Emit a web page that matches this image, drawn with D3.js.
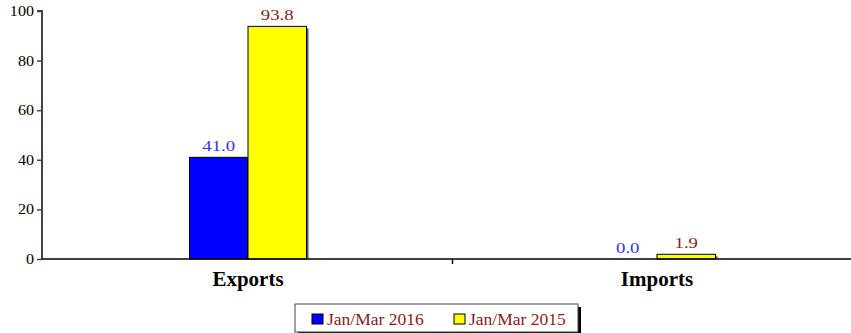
<!DOCTYPE html>
<html>
<head>
<meta charset="utf-8">
<script src="https://cdn.jsdelivr.net/npm/d3@7"></script>
<style>
  html, body { margin: 0; padding: 0; background: #fff; }
  svg { display: block; }
  text { font-family: "Liberation Serif", "Times New Roman", serif; }
</style>
</head>
<body>
<svg id="chart" width="851" height="333"></svg>
<script>
const categories = ["Exports", "Imports"];
const seriesNames = ["Jan/Mar 2016", "Jan/Mar 2015"];
const values2016 = [41.0, 0.0];
const values2015 = [93.8, 1.9];
const yTicks = [0, 20, 40, 60, 80, 100];

const fills = ["#0000ff", "#ffff00"];
const labelColors = ["#3333ff", "#8b1a1a"];

const svg = d3.select("#chart");
const plotLeft = 42, plotTop = 11, plotBottom = 259;
const bandStart = 43.5, bandWidth = 409;

// text placed at (x, y) and widened horizontally by sx
function stretchedText(parent, x, y, sx, str) {
  return parent.append("text")
    .attr("transform", `translate(${x},${y}) scale(${sx},1)`)
    .text(str);
}

const x = d3.scaleBand().domain(categories).range([bandStart, bandStart + bandWidth * categories.length]).paddingInner(0).paddingOuter(0);
const y = d3.scaleLinear().domain([0, 100]).range([plotBottom, plotTop]);
const sub = d3.scaleBand().domain(seriesNames).range([0, 117]);

const data = categories.map((c, i) => ({ cat: c, vals: [values2016[i], values2015[i]] }));

// bars
const groups = svg.append("g").selectAll("g").data(data).join("g")
  .attr("transform", d => `translate(${x(d.cat) + x.bandwidth() / 2 - 58.5},0)`);

groups.each(function (d) {
  const g = d3.select(this);
  d.vals.forEach((v, k) => {
    const bx = sub(seriesNames[k]);
    const h = plotBottom - y(v);
    if (h > 0) {
      g.append("rect")
        .attr("x", bx + 2).attr("y", y(v) + 2)
        .attr("width", sub.bandwidth()).attr("height", h - 2)
        .attr("fill", "#555");
      g.append("rect")
        .attr("x", bx).attr("y", y(v))
        .attr("width", sub.bandwidth()).attr("height", h)
        .attr("fill", fills[k]).attr("stroke", "#000").attr("stroke-width", 1);
    }
    stretchedText(g, bx + sub.bandwidth() / 2, y(v) - 6, 1.25, v.toFixed(1))
      .attr("text-anchor", "middle")
      .attr("font-size", 15)
      .attr("fill", labelColors[k]);
  });
});

// y axis
const yAxis = svg.append("g").attr("transform", `translate(${plotLeft},0)`)
  .call(d3.axisLeft(y).tickValues(yTicks).tickSize(5).tickFormat(""));
yAxis.select(".domain").attr("stroke", "#444").attr("stroke-width", 2).attr("d", `M-5,${plotTop}H0V${plotBottom}`);
yAxis.selectAll(".tick line").attr("stroke", "#444").attr("stroke-width", 1.5);
yAxis.selectAll(".tick").each(function (t) {
  stretchedText(d3.select(this), -8, 4.5, 1.15, t)
    .attr("text-anchor", "end").attr("font-size", 14).attr("fill", "#000")
    .attr("font-family", "Liberation Serif, Times New Roman, serif");
});

// x axis
const xAxis = svg.append("g").attr("transform", `translate(0,${plotBottom})`)
  .call(d3.axisBottom(x).tickSize(0).tickFormat(""));
xAxis.select(".domain").attr("stroke", "#000").attr("stroke-width", 1.5)
  .attr("d", `M${plotLeft},0H${bandStart + bandWidth * categories.length}`);
xAxis.selectAll(".tick").each(function (c) {
  stretchedText(d3.select(this), 0, 27, 1.05, c)
    .attr("text-anchor", "middle").attr("font-size", 20).attr("font-weight", "bold").attr("fill", "#000")
    .attr("font-family", "Liberation Serif, Times New Roman, serif");
});
// separators between categories
xAxis.append("g").selectAll("line").data(categories.slice(1)).join("line")
  .attr("x1", d => x(d)).attr("x2", d => x(d))
  .attr("y1", 0).attr("y2", 5).attr("stroke", "#000").attr("stroke-width", 1.5);

// legend
const lg = svg.append("g").attr("transform", "translate(295,304)");
lg.append("rect").attr("x", 3).attr("y", 3).attr("width", 283).attr("height", 28).attr("fill", "#000");
lg.append("rect").attr("x", 0).attr("y", 0).attr("width", 283).attr("height", 28)
  .attr("fill", "#fff").attr("stroke", "#444").attr("stroke-width", 1);
const legX = [17, 159];
seriesNames.forEach((s, k) => {
  lg.append("rect").attr("x", legX[k]).attr("y", 10).attr("width", 11).attr("height", 10)
    .attr("fill", fills[k]).attr("stroke", "#000").attr("stroke-width", 1);
  lg.append("text").attr("x", legX[k] + 15).attr("y", 21).attr("font-size", 17.5)
    .attr("fill", "#8b1a1a").text(s);
});
</script>
</body>
</html>
